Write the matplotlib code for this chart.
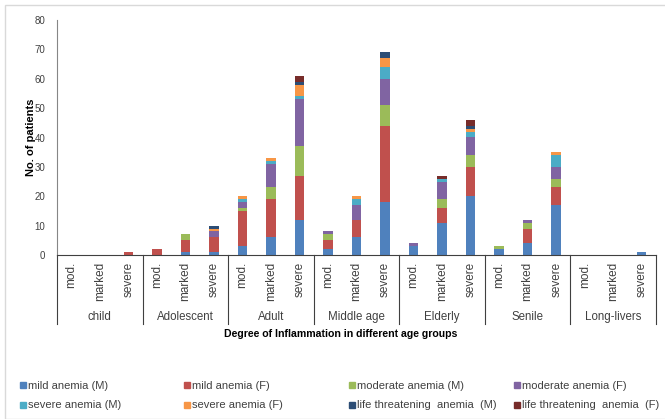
import matplotlib
matplotlib.use("Agg")
import matplotlib.pyplot as plt
from matplotlib.lines import Line2D
from matplotlib.patches import Rectangle
import matplotlib.transforms as mtransforms
import numpy as np

plt.rcParams['font.family'] = ['Liberation Sans', 'DejaVu Sans']

age_groups = ['child', 'Adolescent', 'Adult', 'Middle age', 'Elderly', 'Senile', 'Long-livers']
degrees = ['mod.', 'marked', 'severe']

series_names = ['mild anemia (M)', 'mild anemia (F)', 'moderate anemia (M)', 'moderate anemia (F)',
                'severe anemia (M)', 'severe anemia (F)', 'life threatening  anemia  (M)',
                'life threatening  anemia  (F)']
colors = ['#4F81BD', '#C0504D', '#9BBB59', '#8064A2', '#4BACC6', '#F79646', '#2C4D75', '#772C2A']

# one row per series, 21 columns = 7 age groups x (mod., marked, severe)
mild_m     = [0, 0, 0,  0, 1, 1,  3, 6, 12,  2, 6, 18,  3, 11, 20,  2, 4, 17,  0, 0, 1]
mild_f     = [0, 0, 1,  2, 4, 5, 12, 13, 15,  3, 6, 26,  0, 5, 10,  0, 5, 6,  0, 0, 0]
moderate_m = [0, 0, 0,  0, 2, 0,  1, 4, 10,  2, 0, 7,  0, 3, 4,  1, 2, 3,  0, 0, 0]
moderate_f = [0, 0, 0,  0, 0, 2,  2, 8, 16,  1, 5, 9,  1, 6, 6,  0, 1, 4,  0, 0, 0]
severe_m   = [0, 0, 0,  0, 0, 0,  1, 1, 1,  0, 2, 4,  0, 1, 2,  0, 0, 4,  0, 0, 0]
severe_f   = [0, 0, 0,  0, 0, 1,  1, 1, 4,  0, 1, 3,  0, 0, 1,  0, 0, 1,  0, 0, 0]
life_m     = [0, 0, 0,  0, 0, 1,  0, 0, 1,  0, 0, 2,  0, 0, 1,  0, 0, 0,  0, 0, 0]
life_f     = [0, 0, 0,  0, 0, 0,  0, 0, 2,  0, 0, 0,  0, 1, 2,  0, 0, 0,  0, 0, 0]

data = [mild_m, mild_f, moderate_m, moderate_f, severe_m, severe_f, life_m, life_f]

fig = plt.figure(figsize=(6.65, 4.19), dpi=100)
ax = fig.add_axes([57 / 665, 1 - 255 / 419, 599 / 665, 235 / 419])

x = np.arange(len(mild_m))
bottom = np.zeros(len(x))
for vals, col, name in zip(data, colors, series_names):
    vals = np.array(vals)
    ax.bar(x, vals, width=0.33, bottom=bottom, color=col, label=name, edgecolor='none')
    bottom += vals

ax.set_xlim(-0.5, len(x) - 0.5)
ax.set_ylim(0, 80)
ax.set_yticks(range(0, 81, 10))
ax.tick_params(axis='y', length=0, labelsize=7, pad=8.5, colors='#404040')
ax.set_xticks(x)
ax.set_xticklabels(degrees * len(age_groups), rotation=90, fontsize=8.5, va='top')
ax.tick_params(axis='x', length=0, pad=5, colors='#404040')

for s in ['top', 'right']:
    ax.spines[s].set_visible(False)
ax.spines['left'].set_color('#868686')
ax.spines['bottom'].set_color('#404040')

# group labels and separators under the axis
trans = mtransforms.blended_transform_factory(ax.transData, ax.transAxes)
for i, g in enumerate(age_groups):
    ax.text(3 * i + 1, -0.264, g, transform=trans, ha='center', va='center',
            fontsize=8.3, color='#404040')
for b in np.arange(-0.5, len(x), 3):
    ax.add_line(Line2D([b, b], [0, -0.294], transform=trans, color='#404040',
                       lw=0.8, clip_on=False))

ax.set_ylabel('No. of patients', fontsize=8, fontweight='bold', labelpad=-1)
fig.text(341 / 665, 1 - 334 / 419, 'Degree of Inflammation in different age groups',
         ha='center', va='center', fontsize=7.6, fontweight='bold')

# legend: four columns of two entries each
col_x = [20, 184, 349, 514]
for c in range(4):
    handles = [Line2D([], [], marker='s', ls='none', color=colors[k], markersize=4.5)
               for k in (c, c + 4)]
    fig.legend(handles, [series_names[c], series_names[c + 4]],
               loc='upper left', bbox_to_anchor=(col_x[c] / 665, 1 - 381 / 419),
               frameon=False, fontsize=8, handlelength=0.5, handletextpad=0.2,
               labelspacing=0.85, borderaxespad=0, borderpad=0, labelcolor='#404040')

fig.patches.append(Rectangle((5 / 665, 0), 1, 1 - 5 / 419, transform=fig.transFigure,
                             fill=False, edgecolor='#D9D9D9', lw=1))

fig.savefig('out.png', dpi=100)
